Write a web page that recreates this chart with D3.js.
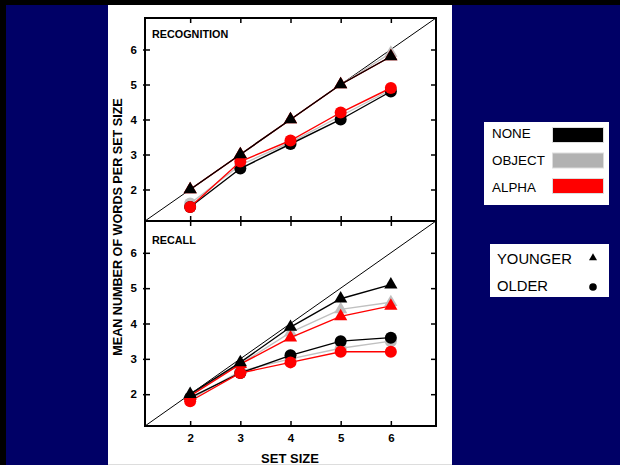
<!DOCTYPE html>
<html lang="en">

<head>
    <meta charset="UTF-8">
    <title>Mean number of words per set size</title>
    <script src="https://d3js.org/d3.v7.min.js"></script>
    <style>
        body {
            margin: 0;
            background: #000066;
            font-family: Arial, "Liberation Sans", sans-serif;
        }

        svg {
            display: block;
        }

        .tick text {
            font-size: 11.5px;
            font-weight: bold;
            font-family: Arial, "Liberation Sans", sans-serif;
        }
    </style>
</head>

<body>

    <svg width="620" height="465"></svg>

    <script>
        // data
        const setSizes = [2, 3, 4, 5, 6];
        const yTicks = [2, 3, 4, 5, 6];
        const conditions = ["NONE", "OBJECT", "ALPHA"];
        const ageGroups = ["YOUNGER", "OLDER"];

        const recognitionYoungerNone = [2.0, 3.0, 4.0, 5.0, 5.8];
        const recognitionYoungerObject = [2.0, 3.0, 4.0, 5.0, 5.9];
        const recognitionYoungerAlpha = [2.0, 3.0, 4.0, 5.0, 5.8];
        const recognitionOlderNone = [1.5, 2.6, 3.3, 4.0, 4.8];
        const recognitionOlderObject = [1.6, 2.7, 3.35, 4.1, 4.85];
        const recognitionOlderAlpha = [1.5, 2.8, 3.4, 4.2, 4.9];

        const recallYoungerNone = [2.0, 2.9, 3.9, 4.7, 5.1];
        const recallYoungerObject = [2.0, 2.85, 3.75, 4.4, 4.6];
        const recallYoungerAlpha = [1.95, 2.85, 3.6, 4.2, 4.5];
        const recallOlderNone = [1.9, 2.6, 3.1, 3.5, 3.6];
        const recallOlderObject = [1.85, 2.65, 3.0, 3.3, 3.5];
        const recallOlderAlpha = [1.8, 2.6, 2.9, 3.2, 3.2];

        const colors = { NONE: "#000000", OBJECT: "#c0c0c0", ALPHA: "#ff0000" };
        const legendColors = { NONE: "#000000", OBJECT: "#b2b2b2", ALPHA: "#ff0000" };

        const svg = d3.select("svg");

        // page background: navy with white card in the middle
        svg.append("rect").attr("x", 0).attr("y", 0).attr("width", 620).attr("height", 465).attr("fill", "#000066");
        svg.append("rect").attr("x", 0).attr("y", 0).attr("width", 620).attr("height", 5).attr("fill", "#000");
        svg.append("rect").attr("x", 0).attr("y", 0).attr("width", 6).attr("height", 465).attr("fill", "#000");
        svg.append("rect").attr("x", 108).attr("y", 5).attr("width", 344).attr("height", 460).attr("fill", "#fff");
        svg.append("line").attr("x1", 108).attr("x2", 452).attr("y1", 464.5).attr("y2", 464.5)
            .attr("stroke", "#ddd");

        const domain = [1.1, 6.9];
        const x = d3.scaleLinear().domain(domain).range([145, 436]);
        const fmt = d3.format("d");

        const panels = [
            {
                label: "RECOGNITION", top: 18, bottom: 221,
                series: [
                    { cond: "OBJECT", age: "OLDER", values: recognitionOlderObject },
                    { cond: "OBJECT", age: "YOUNGER", values: recognitionYoungerObject },
                    { cond: "NONE", age: "OLDER", values: recognitionOlderNone },
                    { cond: "ALPHA", age: "OLDER", values: recognitionOlderAlpha },
                    { cond: "ALPHA", age: "YOUNGER", values: recognitionYoungerAlpha },
                    { cond: "NONE", age: "YOUNGER", values: recognitionYoungerNone }
                ]
            },
            {
                label: "RECALL", top: 221, bottom: 426,
                series: [
                    { cond: "OBJECT", age: "OLDER", values: recallOlderObject },
                    { cond: "OBJECT", age: "YOUNGER", values: recallYoungerObject },
                    { cond: "NONE", age: "OLDER", values: recallOlderNone },
                    { cond: "ALPHA", age: "OLDER", values: recallOlderAlpha },
                    { cond: "ALPHA", age: "YOUNGER", values: recallYoungerAlpha },
                    { cond: "NONE", age: "YOUNGER", values: recallYoungerNone }
                ]
            }
        ];

        const triangle = d3.symbol().type(d3.symbolTriangle).size(76);

        panels.forEach((p, i) => {
            const y = d3.scaleLinear().domain(domain).range([p.bottom, p.top]);
            const g = svg.append("g");

            // diagonal y = x
            g.append("line")
                .attr("x1", x(domain[0])).attr("y1", y(domain[0]))
                .attr("x2", x(domain[1])).attr("y2", y(domain[1]))
                .attr("stroke", "#000").attr("stroke-width", 1);

            // axes with inward ticks
            const left = g.append("g").attr("transform", `translate(${x(domain[0])},0)`)
                .call(d3.axisLeft(y).tickValues(yTicks).tickFormat(fmt)
                    .tickSizeInner(-5).tickSizeOuter(0).tickPadding(8));
            left.selectAll(".tick line").attr("x1", -2);

            g.append("g").attr("transform", `translate(${x(domain[1])},0)`)
                .call(d3.axisRight(y).tickValues(yTicks).tickSizeInner(-5).tickSizeOuter(0).tickFormat(""));

            g.append("g").attr("transform", `translate(0,${p.top})`)
                .call(d3.axisTop(x).tickValues(setSizes).tickSizeInner(-5).tickSizeOuter(0).tickFormat(""));

            const bottom = g.append("g").attr("transform", `translate(0,${p.bottom})`)
                .call(d3.axisBottom(x).tickValues(setSizes).tickFormat(fmt)
                    .tickSizeInner(-5).tickSizeOuter(0).tickPadding(8));
            if (i === 0) bottom.selectAll(".tick text").remove();

            g.selectAll(".domain").remove();
            g.selectAll(".tick line").attr("stroke", "#000").attr("stroke-width", 1.5);

            // panel title
            g.append("text")
                .attr("x", 152).attr("y", p.top + (i === 0 ? 20 : 23))
                .attr("font-size", 10.8).attr("font-weight", "bold")
                .text(p.label);

            // series lines then markers
            const line = d3.line().x((d, k) => x(setSizes[k])).y(d => y(d));
            p.series.forEach(s => {
                g.append("path")
                    .datum(s.values)
                    .attr("d", line)
                    .attr("fill", "none")
                    .attr("stroke", colors[s.cond])
                    .attr("stroke-width", 1.4);

                const marks = g.selectAll(null)
                    .data(s.values)
                    .enter();
                if (s.age === "OLDER") {
                    marks.append("circle")
                        .attr("cx", (d, k) => x(setSizes[k]))
                        .attr("cy", d => y(d))
                        .attr("r", 6)
                        .attr("fill", colors[s.cond]);
                } else {
                    marks.append("path")
                        .attr("d", triangle)
                        .attr("transform", (d, k) => `translate(${x(setSizes[k])},${y(d)})`)
                        .attr("fill", colors[s.cond]);
                }
            });
        });

        // plot frame
        svg.append("rect")
            .attr("x", 145).attr("y", 18).attr("width", 291).attr("height", 408)
            .attr("fill", "none").attr("stroke", "#000").attr("stroke-width", 2);
        svg.append("line")
            .attr("x1", 145).attr("x2", 436).attr("y1", 221).attr("y2", 221)
            .attr("stroke", "#000").attr("stroke-width", 2);

        // axis titles
        svg.append("text")
            .attr("transform", "translate(122,227) rotate(-90)")
            .attr("text-anchor", "middle")
            .attr("font-size", 12.6).attr("font-weight", "bold")
            .text("MEAN NUMBER OF WORDS PER SET SIZE");

        svg.append("text")
            .attr("x", 290).attr("y", 463)
            .attr("text-anchor", "middle")
            .attr("font-size", 13).attr("font-weight", "bold")
            .text("SET SIZE");

        // condition legend
        const leg1 = svg.append("g");
        leg1.append("rect").attr("x", 484).attr("y", 122).attr("width", 125).attr("height", 83).attr("fill", "#fff");
        conditions.forEach((c, k) => {
            leg1.append("text")
                .attr("x", 492).attr("y", 138 + k * 27)
                .attr("font-size", 13.4)
                .text(c);
            leg1.append("rect")
                .attr("x", 552.5).attr("y", 127.5 + k * 25.5)
                .attr("width", 51).attr("height", 15)
                .attr("fill", legendColors[c])
                .attr("stroke", "#ddd").attr("stroke-width", 1);
        });

        // age legend
        const leg2 = svg.append("g");
        leg2.append("rect").attr("x", 490).attr("y", 244).attr("width", 119).attr("height", 53).attr("fill", "#fff");
        ageGroups.forEach((a, k) => {
            leg2.append("text")
                .attr("x", 497).attr("y", 263.5 + k * 27)
                .attr("font-size", 14.8)
                .text(a);
        });
        leg2.append("path")
            .attr("d", d3.symbol().type(d3.symbolTriangle).size(28))
            .attr("transform", "translate(593,258)");
        leg2.append("circle").attr("cx", 593).attr("cy", 287).attr("r", 3.8);
    </script>

</body>

</html>
